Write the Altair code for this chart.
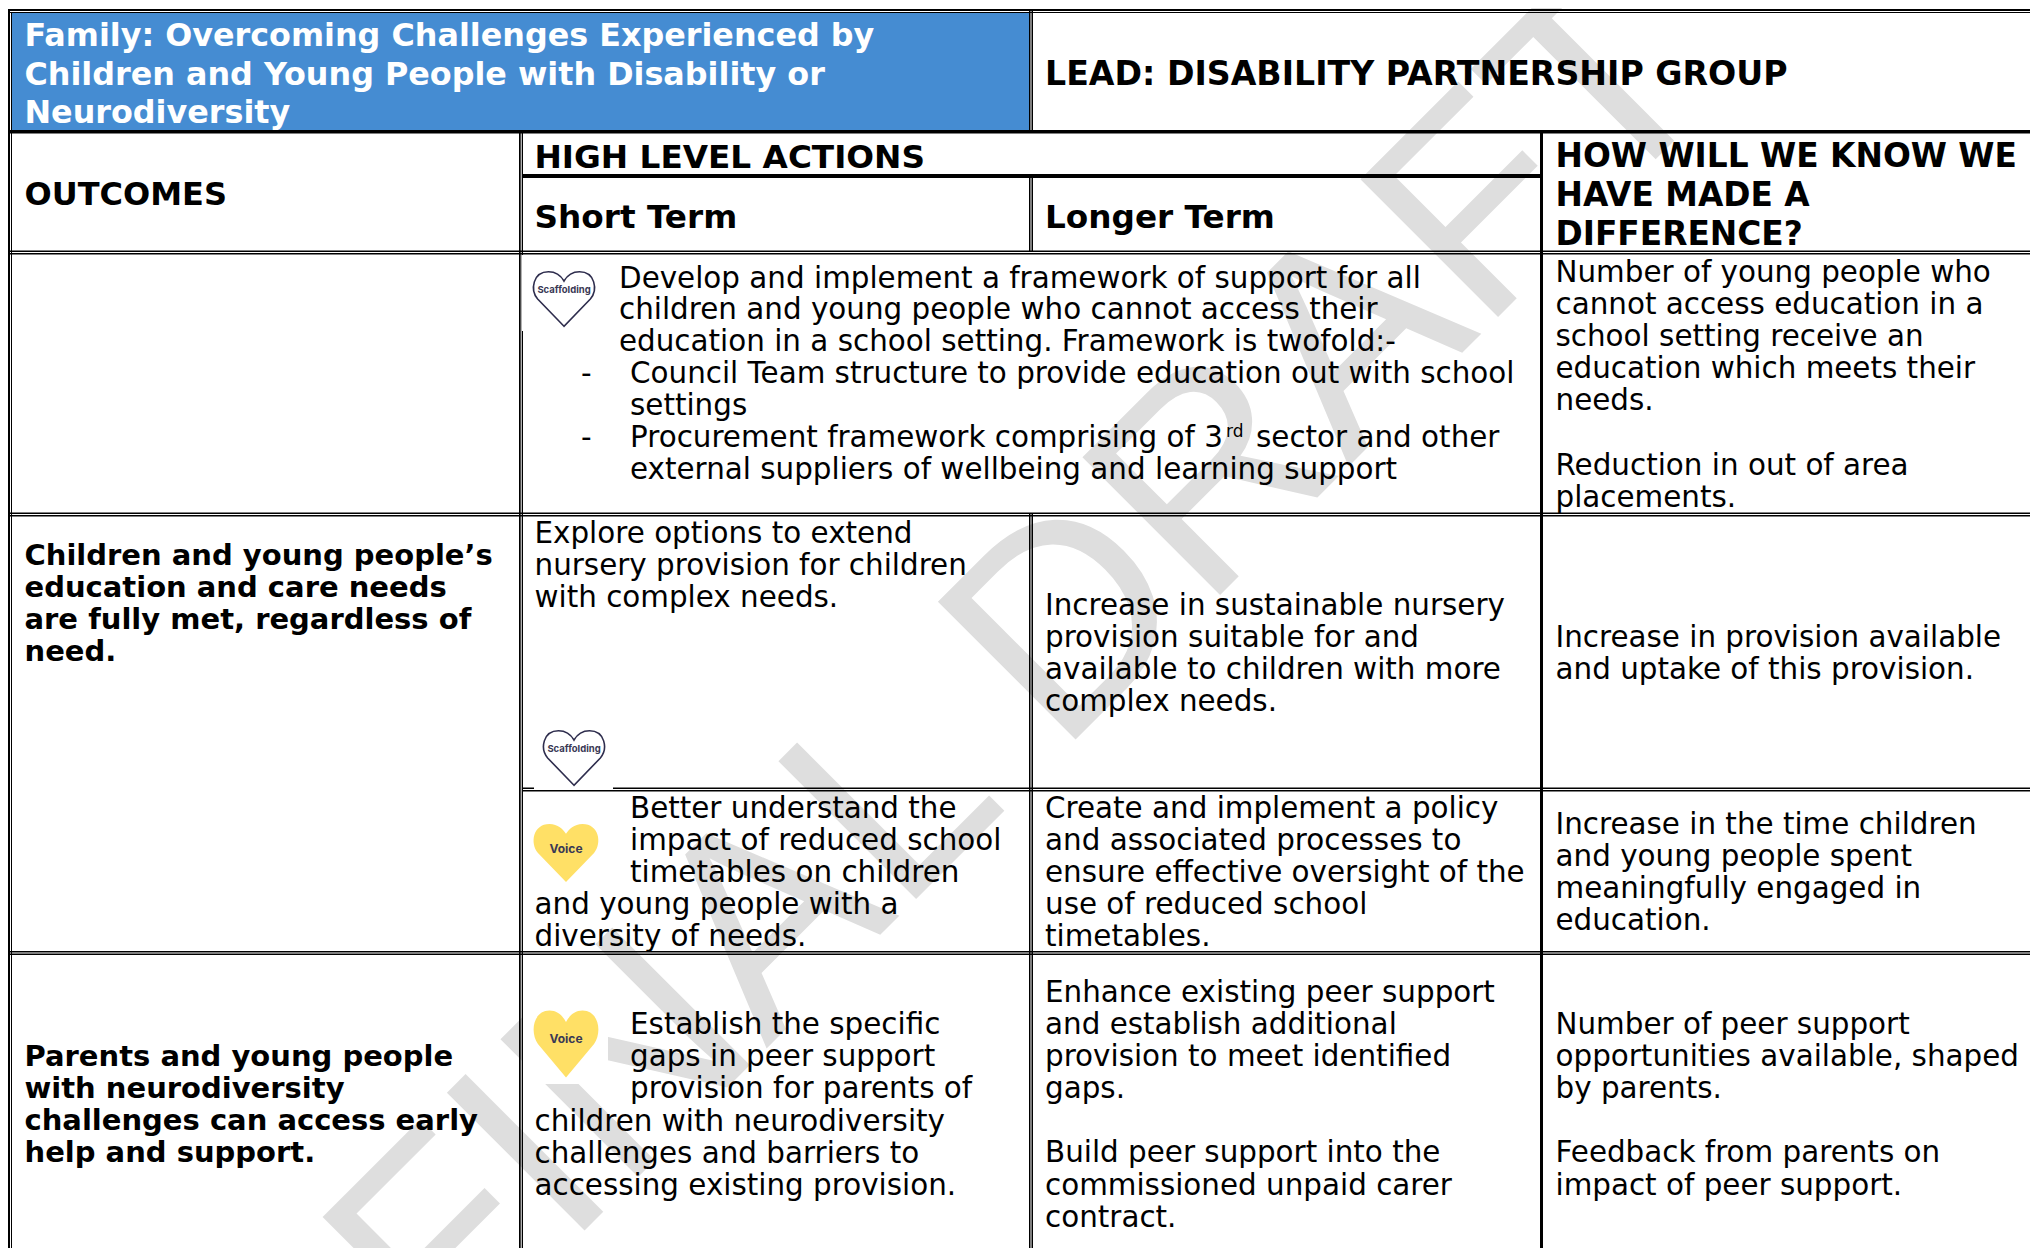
import altair as alt
import pandas as pd

# ---------- table text ----------
TITLE = ["Family: Overcoming Challenges Experienced by",
         "Children and Young People with Disability or",
         "Neurodiversity"]
LEAD = ["LEAD: DISABILITY PARTNERSHIP GROUP"]
OUTCOMES = ["OUTCOMES"]
HIGH = ["HIGH LEVEL ACTIONS"]
SHORT = ["Short Term"]
LONGER = ["Longer Term"]
HOW = ["HOW WILL WE KNOW WE", "HAVE MADE A", "DIFFERENCE?"]
OUT1 = ["Children and young people\u2019s", "education and care needs",
        "are fully met, regardless of", "need."]
OUT2 = ["Parents and young people", "with neurodiversity",
        "challenges can access early", "help and support."]
DEV = ["Develop and implement a framework of support for all",
       "children and young people who cannot access their",
       "education in a school setting. Framework is twofold:-"]
BUL = ["Council Team structure to provide education out with school", "settings",
       "Procurement framework comprising of 3"]
BUL2 = ["external suppliers of wellbeing and learning support"]
SECTOR = ["sector and other"]
SUP = ["rd"]
DASH = ["-", "-"]
KNOW1 = ["Number of young people who", "cannot access education in a",
         "school setting receive an", "education which meets their", "needs."]
KNOW1B = ["Reduction in out of area", "placements."]
EXPLORE = ["Explore options to extend", "nursery provision for children",
           "with complex needs."]
NURSERY = ["Increase in sustainable nursery", "provision suitable for and",
           "available to children with more", "complex needs."]
UPTAKE = ["Increase in provision available", "and uptake of this provision."]
BETTER = ["Better understand the", "impact of reduced school", "timetables on children"]
BETTER2 = ["and young people with a", "diversity of needs."]
CREATE = ["Create and implement a policy", "and associated processes to",
          "ensure effective oversight of the", "use of reduced school", "timetables."]
TIME = ["Increase in the time children", "and young people spent",
        "meaningfully engaged in", "education."]
ESTAB = ["Establish the specific", "gaps in peer support", "provision for parents of"]
ESTAB2 = ["children with neurodiversity", "challenges and barriers to",
          "accessing existing provision."]
ENH = ["Enhance existing peer support", "and establish additional",
       "provision to meet identified", "gaps."]
ENH2 = ["Build peer support into the", "commissioned unpaid carer", "contract."]
PEER = ["Number of peer support", "opportunities available, shaped", "by parents."]
PEER2 = ["Feedback from parents on", "impact of peer support."]
WATERMARK = ["FINAL DRAFT"]

# ---------- layout (page pixels) ----------
W, H = 2030, 1248
FONT = "DejaVu Sans"
C0, C1, C2, C3 = 24.5, 534.5, 1045, 1555.5

# lines, x, first baseline, line step, style
cells = [
    (TITLE, C0, 46, 38.5, "title"),
    (LEAD, C2, 85, 0, "lead"),
    (OUTCOMES, C0, 205, 0, "outc"),
    (HIGH, C1, 167.5, 0, "head"),
    (SHORT, C1, 227.5, 0, "head"),
    (LONGER, C2, 227.5, 0, "head"),
    (HOW, C3, 167, 39, "how"),
    (OUT1, C0, 564.5, 32.1, "bold"),
    (OUT2, C0, 1066, 32.1, "bold"),
    (DEV, 619, 287.5, 31.7, "body"),
    (BUL, 630, 383, 32, "body"),
    (BUL2, 630, 479, 0, "body"),
    (SECTOR, 1256, 447, 0, "body"),
    (SUP, 1226, 437, 0, "sup"),
    (DASH, 581, 383, 64, "body"),
    (KNOW1, C3, 282, 32.1, "body"),
    (KNOW1B, C3, 474.5, 32, "body"),
    (EXPLORE, C1, 542.5, 32, "body"),
    (NURSERY, C2, 614.5, 32, "body"),
    (UPTAKE, C3, 646.5, 32, "body"),
    (BETTER, 630, 818, 32, "body"),
    (BETTER2, C1, 914, 32, "body"),
    (CREATE, C2, 818, 32, "body"),
    (TIME, C3, 834, 32, "body"),
    (ESTAB, 630, 1033.5, 32.3, "body"),
    (ESTAB2, C1, 1130.5, 32.3, "body"),
    (ENH, C2, 1002, 32, "body"),
    (ENH2, C2, 1162, 32.5, "body"),
    (PEER, C3, 1034, 32, "body"),
    (PEER2, C3, 1162, 32.5, "body"),
]
STYLE = {"title": (31.8, "bold", "#ffffff"), "head": (32.7, "bold", "#000000"),
         "lead": (33.2, "bold", "#000000"), "how": (32.8, "bold", "#000000"),
         "outc": (32, "bold", "#000000"),
         "bold": (29, "bold", "#000000"), "body": (29.4, "normal", "#000000"),
         "sup": (17, "normal", "#000000")}

text_rows = []
for lines, x, y0, step, style in cells:
    for i, line in enumerate(lines):
        text_rows.append({"x": x, "y": y0 + i * step, "t": line, "style": style})
text_df = pd.DataFrame(text_rows)

# rectangles: (x, x2, y, y2)
blue = pd.DataFrame([{"x": 12, "x2": 1029, "y": 13, "y2": 130}])
HL = [(8, W, 9, 11), (8, W, 12, 13), (8, W, 130, 133.5), (522, 1541, 174, 178),
      (8, W, 250.5, 252), (8, W, 253, 254.5), (8, W, 512.5, 514), (8, W, 515, 516.5),
      (522, W, 787.5, 789), (522, W, 790, 791.5), (8, W, 951, 952.5), (8, W, 953.5, 955)]
VL = [(8, 10, 9, H), (11, 12, 13, H), (519, 520.7, 130, H), (521.7, 523, 130, H),
      (1029, 1030.5, 9, 133), (1031.5, 1033, 9, 133), (1029, 1030.5, 177, 251),
      (1031.5, 1033, 177, 251), (1029, 1030.5, 513, H), (1031.5, 1033, 513, H),
      (1540, 1543, 130, H)]
lines_df = pd.DataFrame([{"x": a, "x2": b, "y": c, "y2": d} for a, b, c, d in HL + VL])

# white picture boxes behind hearts
PICS = [(522, 606, 255, 331), (534, 613, 726, 789), (523, 607, 820, 888), (523, 608, 1007, 1084)]
pics_df = pd.DataFrame([{"x": a, "x2": b, "y": c, "y2": d} for a, b, c, d in PICS])

def heart(k=1.0):
    p = [(0, .88), (-.85, 0), (-1.1, -.3), (-1, -.88), (-.5, -.88), (-.25, -.88), (-.08, -.72), (0, -.58),
         (.08, -.72), (.25, -.88), (.5, -.88), (1, -.88), (1.1, -.3), (.85, 0)]
    s = [f"{a:.3f},{b*k:.3f}" for a, b in p]
    return (f"M{s[0]} L{s[1]} C{s[2]} {s[3]} {s[4]} C{s[5]} {s[6]} {s[7]} "
            f"C{s[8]} {s[9]} {s[10]} C{s[11]} {s[12]} {s[13]} Z")

SCAFF = pd.DataFrame({"x": [564, 574], "y": [299, 758], "t": ["Scaffolding", "Scaffolding"]})
VOICE = pd.DataFrame({"x": [566], "y": [853], "t": ["Voice"]})
VOICE2 = pd.DataFrame({"x": [566], "y": [1044], "t": ["Voice"]})
mark_df = pd.DataFrame([{"x": 1085, "y": 730, "t": WATERMARK[0]}])

# ---------- chart ----------
xs = alt.X("x:Q", scale=alt.Scale(domain=[8, W], nice=False, zero=False), axis=None)
ys = alt.Y("y:Q", scale=alt.Scale(domain=[H, 8], nice=False, zero=False), axis=None)
x2 = alt.X2("x2:Q")
y2 = alt.Y2("y2:Q")

def rects(df, color):
    return alt.Chart(df).mark_rect(color=color, strokeWidth=0).encode(xs, ys, x2=x2, y2=y2)

def texts(style):
    size, weight, color = STYLE[style]
    d = text_df[text_df["style"] == style]
    return alt.Chart(d).mark_text(font=FONT, fontSize=size, fontWeight=weight, color=color,
                                  align="left", baseline="alphabetic").encode(xs, ys, text="t:N")

wm = alt.Chart(mark_df).mark_text(font="Liberation Sans", fontSize=283, color="#dedede",
                                  angle=315, align="center", baseline="alphabetic").encode(xs, ys, text="t:N")

def hearts(df, k, size, fill, stroke, label, lsize, dy):
    base = alt.Chart(df)
    h = base.mark_point(shape=heart(k), size=size, filled=True, fill=fill, stroke=stroke,
                        strokeWidth=1.6 if stroke != fill else 0, opacity=1).encode(xs, ys)
    t = base.mark_text(font="Inter", fontSize=lsize, fontWeight="bold", color=label,
                       align="center", baseline="middle", dy=dy).encode(xs, ys, text="t:N")
    return h + t

chart = alt.layer(
    wm,
    rects(blue, "#458cd2"),
    rects(lines_df, "#000000"),
    rects(pics_df, "#ffffff"),
    texts("title"), texts("head"), texts("lead"), texts("how"), texts("outc"),
    texts("bold"), texts("body"), texts("sup"),
    hearts(SCAFF, 1.0, 3844, "#ffffff", "#2e2d4d", "#3a3955", 9.5, -9),
    hearts(VOICE, 1.0, 4356, "#ffe066", "#ffe066", "#3a3955", 12, -4),
    hearts(VOICE2, 1.15, 4356, "#ffe066", "#ffe066", "#3a3955", 12, -5),
).properties(width=W - 8, height=H - 8, padding=0,
             autosize=alt.AutoSizeParams(type="none")).configure_view(stroke=None)

chart.save("out.html", embed_options={"renderer": "svg", "actions": False})
